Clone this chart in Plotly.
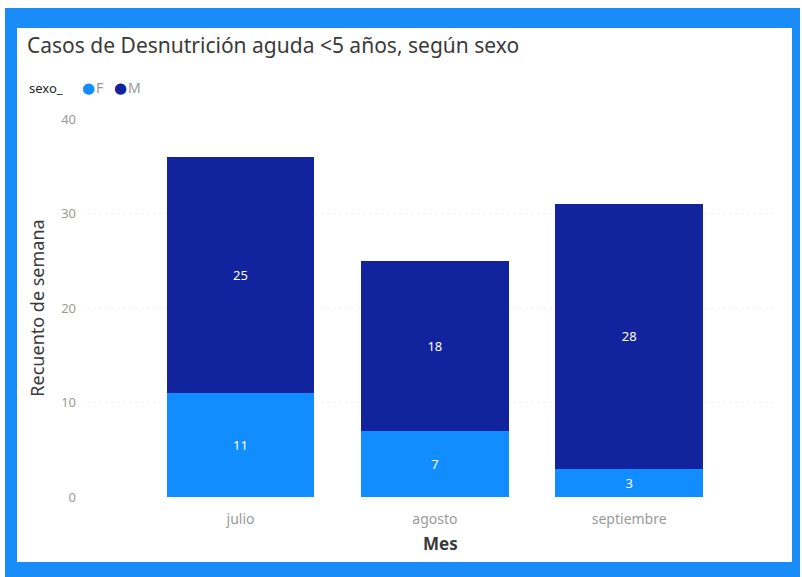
import plotly.graph_objects as go

# Monthly counts of acute malnutrition cases in children under 5, by sex
meses = ["julio", "agosto", "septiembre"]
casos_f = [11, 7, 3]
casos_m = [25, 18, 28]
series = [("F", casos_f), ("M", casos_m)]

COLORES = {"F": "#118DFF", "M": "#12239E"}
FRAME = "#1A8CF8"
FONT = "Noto Sans"

W, H = 802, 577
ML, MR, MT, MB = 87, 29, 119, 80
PW, PH = W - ML - MR, H - MT - MB


def px_x(px):
    return (px - ML) / PW


def px_y(py):
    return (H - MB - py) / PH


fig = go.Figure()

for nombre, valores in series:
    fig.add_trace(go.Bar(
        x=meses, y=valores, name=nombre, marker_color=COLORES[nombre],
        marker_line_width=0,
        text=valores, texttemplate="%{text}", textposition="inside",
        insidetextanchor="middle", textangle=0,
        textfont=dict(color="white", size=13, family=FONT),
        showlegend=False, width=0.76,
    ))

# Blue frame around the visual
fig.add_shape(type="rect", xref="paper", yref="paper",
              x0=px_x(5), x1=px_x(800), y0=px_y(577), y1=px_y(8),
              fillcolor=FRAME, line_width=0, layer="below")
fig.add_shape(type="rect", xref="paper", yref="paper",
              x0=px_x(17), x1=px_x(792), y0=px_y(562), y1=px_y(28),
              fillcolor="white", line_width=0, layer="below")

# Compact legend row: "sexo_  ● F  ● M"
ley_y = px_y(88)
fig.add_annotation(xref="paper", yref="paper", x=px_x(27), y=ley_y,
                   xanchor="left", yanchor="middle", showarrow=False,
                   text="sexo_", font=dict(size=13, color="#252423", family=FONT))
ley_x = 80
for nombre, _ in series:
    fig.add_annotation(xref="paper", yref="paper", x=px_x(ley_x), y=ley_y,
                       xanchor="left", yanchor="middle", showarrow=False,
                       text=f"<span style='color:{COLORES[nombre]}'>●</span>",
                       font=dict(size=15, color=COLORES[nombre], family="DejaVu Sans"))
    fig.add_annotation(xref="paper", yref="paper", x=px_x(ley_x + 14), y=ley_y,
                       xanchor="left", yanchor="middle", showarrow=False,
                       text=nombre, font=dict(size=14, color="#999999", family=FONT))
    ley_x += 32

# x-axis title
fig.add_annotation(xref="paper", yref="paper", x=px_x(440), y=px_y(543),
                   xanchor="center", yanchor="middle", showarrow=False,
                   text="<b>Mes</b>", font=dict(size=17, color="#3a3a3a", family=FONT))

fig.update_layout(
    width=W, height=H,
    margin=dict(l=ML, r=MR, t=MT, b=MB),
    paper_bgcolor="white", plot_bgcolor="rgba(0,0,0,0)",
    barmode="stack",
    font=dict(family=FONT, color="#252423"),
    title=dict(
        text="Casos de Desnutrición aguda <5 años, según sexo",
        xref="container", yref="container",
        x=27 / W, xanchor="left", y=1 - 46 / H, yanchor="middle",
        font=dict(size=21, color="#3a3a3a", family=FONT),
    ),
    showlegend=False,
    xaxis=dict(
        range=[-0.79, 2.74], showgrid=False, zeroline=False, showline=False,
        ticks="", tickfont=dict(size=14, color="#9a9a9a", family=FONT),
        ticklabelstandoff=12,
    ),
    yaxis=dict(
        range=[0, 40], tickvals=[0, 10, 20, 30, 40],
        showgrid=True, gridcolor="#F2F2F2", gridwidth=1, griddash="dot",
        zeroline=False, showline=False, ticks="",
        tickfont=dict(size=13, color="#9a9a9a", family=FONT),
        ticklabelstandoff=10,
        title=dict(text="Recuento de semana",
                   font=dict(size=18, color="#3a3a3a", family=FONT), standoff=11),
    ),
)

fig.write_html("out.html")
